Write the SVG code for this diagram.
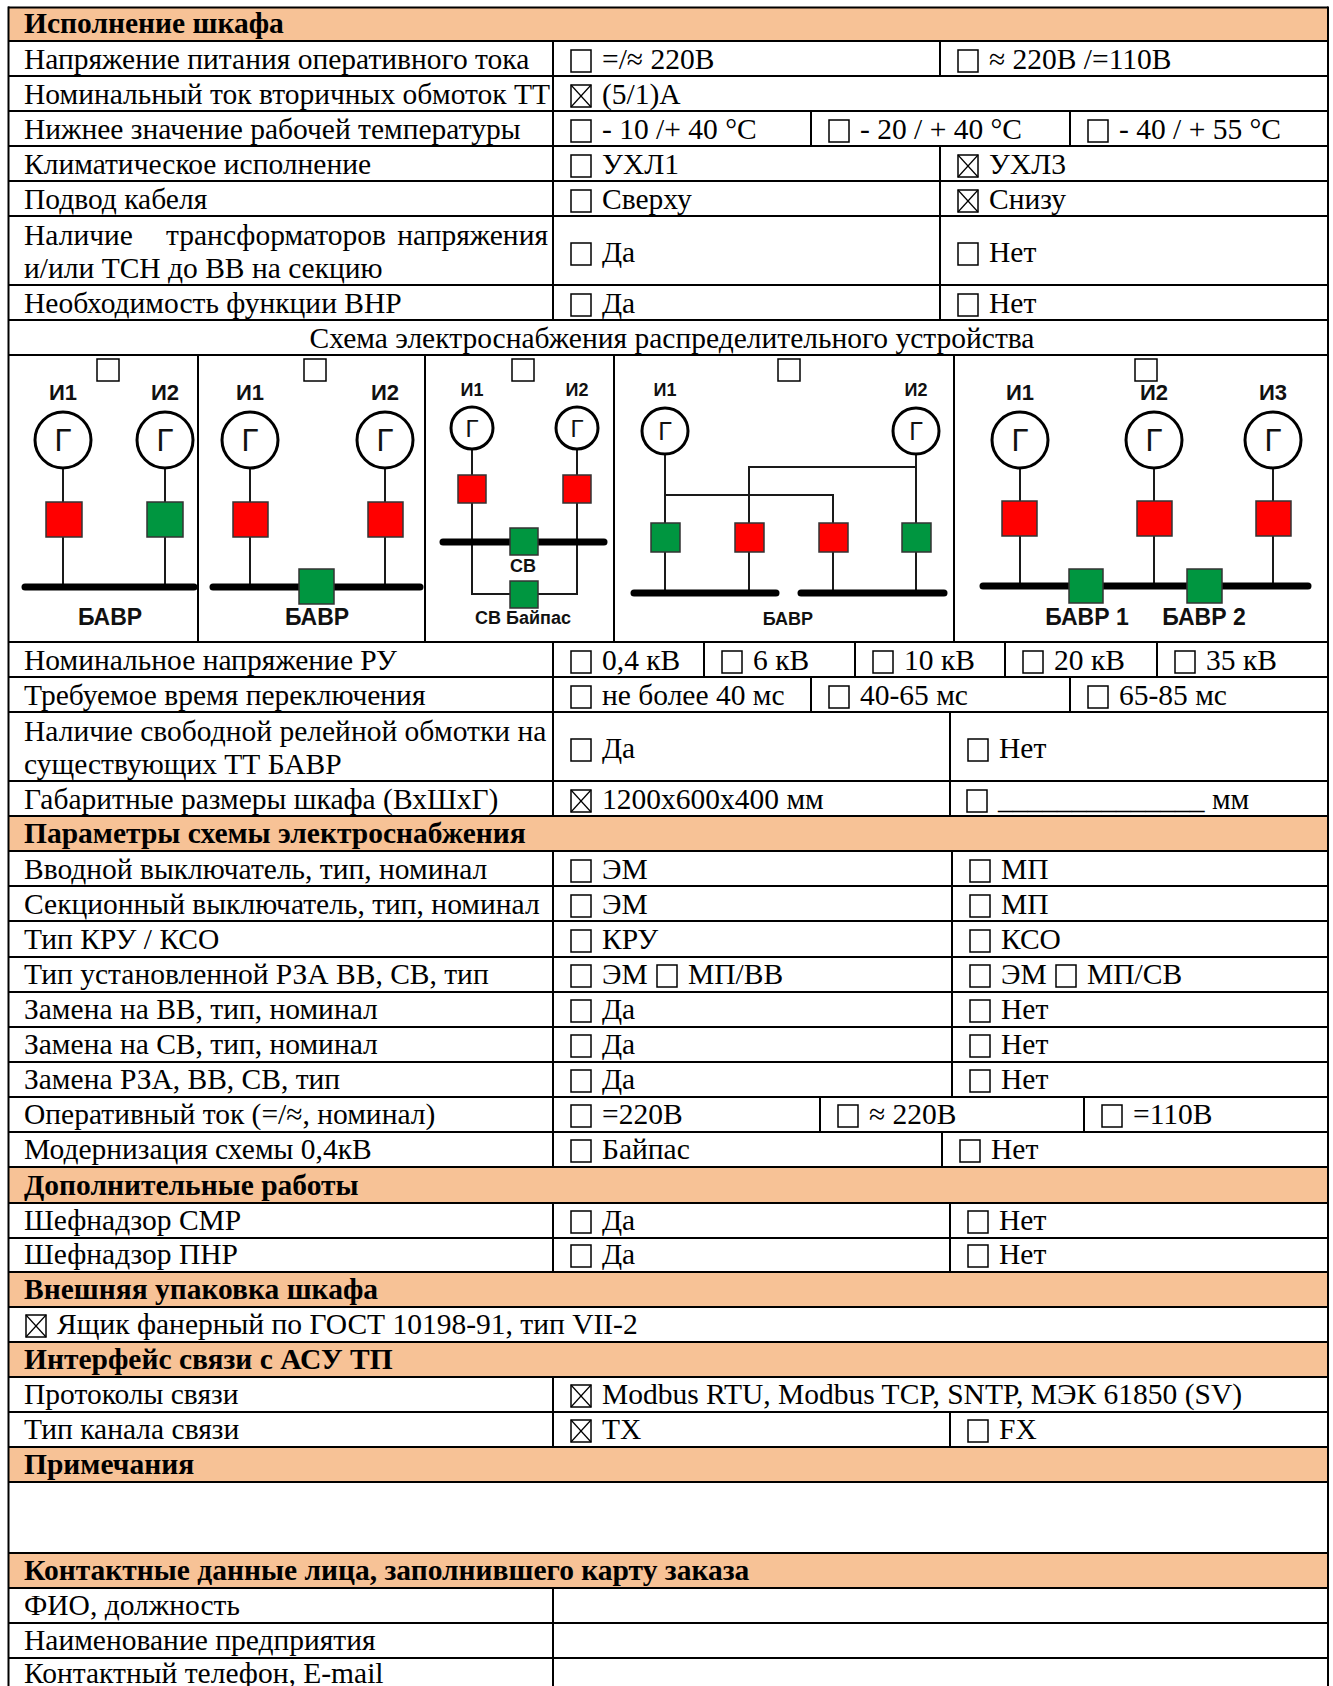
<svg xmlns="http://www.w3.org/2000/svg" xmlns:xlink="http://www.w3.org/1999/xlink" width="1333" height="1686" viewBox="0 0 1333 1686">
<style>
.t{font-family:"Liberation Serif","Times New Roman",serif;font-size:29.5px;fill:#000}
.b{font-weight:bold}
.hdr{fill:#F7C296}
.g line{stroke:#000;stroke-width:2}
.cb{fill:#fff;stroke:#000;stroke-width:1.5}
.cbl{stroke:#000;stroke-width:1.2}
.d{font-family:"Liberation Sans",Arial,sans-serif;font-weight:bold;fill:#111;text-anchor:middle}
.gl{font-family:"Liberation Sans",Arial,sans-serif;fill:#111;text-anchor:middle}
.w{stroke:#1a1a1a;stroke-width:2;fill:none}
.bus{stroke:#000;stroke-width:7;stroke-linecap:round}
.gen{fill:#fff;stroke:#000;stroke-width:3}
.red{fill:#FF0000;stroke:#333;stroke-width:1.5}
.grn{fill:#009640;stroke:#333;stroke-width:1.5}
.dcb{fill:#fff;stroke:#000;stroke-width:1.5}
</style>
<defs>
<g id="cb"><rect class="cb" x="0" y="0" width="20" height="22"/></g>
<g id="cbx"><rect class="cb" x="0" y="0" width="20" height="22"/><line class="cbl" x1="0" y1="0" x2="20" y2="22"/><line class="cbl" x1="20" y1="0" x2="0" y2="22"/></g>
</defs>
<rect x="0" y="0" width="1333" height="1686" fill="#fff"/>
<g id="headers">
<rect class="hdr" x="8" y="7.5" width="1320" height="33.5"/>
<rect class="hdr" x="8" y="816" width="1320" height="35"/>
<rect class="hdr" x="8" y="1167" width="1320" height="36"/>
<rect class="hdr" x="8" y="1272" width="1320" height="35"/>
<rect class="hdr" x="8" y="1342" width="1320" height="35"/>
<rect class="hdr" x="8" y="1447" width="1320" height="35"/>
<rect class="hdr" x="8" y="1553" width="1320" height="35"/>
</g>
<g id="grid" class="g">
<line x1="8" y1="7.5" x2="1328" y2="7.5"/>
<line x1="8" y1="41" x2="1328" y2="41"/>
<line x1="8" y1="76" x2="1328" y2="76"/>
<line x1="8" y1="111" x2="1328" y2="111"/>
<line x1="8" y1="146" x2="1328" y2="146"/>
<line x1="8" y1="181" x2="1328" y2="181"/>
<line x1="8" y1="216" x2="1328" y2="216"/>
<line x1="8" y1="285" x2="1328" y2="285"/>
<line x1="8" y1="320" x2="1328" y2="320"/>
<line x1="8" y1="355" x2="1328" y2="355"/>
<line x1="8" y1="642" x2="1328" y2="642"/>
<line x1="8" y1="677" x2="1328" y2="677"/>
<line x1="8" y1="712" x2="1328" y2="712"/>
<line x1="8" y1="781" x2="1328" y2="781"/>
<line x1="8" y1="816" x2="1328" y2="816"/>
<line x1="8" y1="851" x2="1328" y2="851"/>
<line x1="8" y1="886" x2="1328" y2="886"/>
<line x1="8" y1="921" x2="1328" y2="921"/>
<line x1="8" y1="957" x2="1328" y2="957"/>
<line x1="8" y1="992" x2="1328" y2="992"/>
<line x1="8" y1="1027" x2="1328" y2="1027"/>
<line x1="8" y1="1062" x2="1328" y2="1062"/>
<line x1="8" y1="1097" x2="1328" y2="1097"/>
<line x1="8" y1="1132" x2="1328" y2="1132"/>
<line x1="8" y1="1167" x2="1328" y2="1167"/>
<line x1="8" y1="1203" x2="1328" y2="1203"/>
<line x1="8" y1="1238" x2="1328" y2="1238"/>
<line x1="8" y1="1272" x2="1328" y2="1272"/>
<line x1="8" y1="1307" x2="1328" y2="1307"/>
<line x1="8" y1="1342" x2="1328" y2="1342"/>
<line x1="8" y1="1377" x2="1328" y2="1377"/>
<line x1="8" y1="1412" x2="1328" y2="1412"/>
<line x1="8" y1="1447" x2="1328" y2="1447"/>
<line x1="8" y1="1482" x2="1328" y2="1482"/>
<line x1="8" y1="1553" x2="1328" y2="1553"/>
<line x1="8" y1="1588" x2="1328" y2="1588"/>
<line x1="8" y1="1623" x2="1328" y2="1623"/>
<line x1="8" y1="1658" x2="1328" y2="1658"/>
<line x1="8.5" y1="6.5" x2="8.5" y2="1686"/>
<line x1="1328" y1="6.5" x2="1328" y2="1686"/>
<line x1="553" y1="41" x2="553" y2="320"/>
<line x1="553" y1="642" x2="553" y2="816"/>
<line x1="553" y1="851" x2="553" y2="1167"/>
<line x1="553" y1="1203" x2="553" y2="1272"/>
<line x1="553" y1="1377" x2="553" y2="1447"/>
<line x1="553" y1="1588" x2="553" y2="1686"/>
<line x1="940" y1="41" x2="940" y2="76"/>
<line x1="811" y1="111" x2="811" y2="146"/>
<line x1="1070" y1="111" x2="1070" y2="146"/>
<line x1="940" y1="146" x2="940" y2="320"/>
<line x1="198" y1="355" x2="198" y2="642"/>
<line x1="425" y1="355" x2="425" y2="642"/>
<line x1="614" y1="355" x2="614" y2="642"/>
<line x1="954" y1="355" x2="954" y2="642"/>
<line x1="704" y1="642" x2="704" y2="677"/>
<line x1="855" y1="642" x2="855" y2="677"/>
<line x1="1005" y1="642" x2="1005" y2="677"/>
<line x1="1157" y1="642" x2="1157" y2="677"/>
<line x1="811" y1="677" x2="811" y2="712"/>
<line x1="1070" y1="677" x2="1070" y2="712"/>
<line x1="950" y1="712" x2="950" y2="816"/>
<line x1="952" y1="851" x2="952" y2="1097"/>
<line x1="820" y1="1097" x2="820" y2="1132"/>
<line x1="1084" y1="1097" x2="1084" y2="1132"/>
<line x1="942" y1="1132" x2="942" y2="1167"/>
<line x1="950" y1="1203" x2="950" y2="1272"/>
<line x1="950" y1="1412" x2="950" y2="1447"/>
</g>
<g id="labels" class="t">
<text class="b" x="24" y="33">Исполнение шкафа</text>
<text x="24" y="69">Напряжение питания оперативного тока</text>
<text x="24" y="104">Номинальный ток вторичных обмоток ТТ</text>
<text x="24" y="139">Нижнее значение рабочей температуры</text>
<text x="24" y="174">Климатическое исполнение</text>
<text x="24" y="209">Подвод кабеля</text>
<text x="24" y="245">Наличие</text>
<text x="166" y="245">трансформаторов</text>
<text x="548" y="245" text-anchor="end">напряжения</text>
<text x="24" y="278">и/или ТСН до ВВ на секцию</text>
<text x="24" y="313">Необходимость функции ВНР</text>
<text x="672" y="348" text-anchor="middle">Схема электроснабжения распределительного устройства</text>
<text x="24" y="670">Номинальное напряжение РУ</text>
<text x="24" y="705">Требуемое время переключения</text>
<text x="24" y="741">Наличие свободной релейной обмотки на</text>
<text x="24" y="774">существующих ТТ БАВР</text>
<text x="24" y="809">Габаритные размеры шкафа (ВхШхГ)</text>
<text class="b" x="24" y="843">Параметры схемы электроснабжения</text>
<text x="24" y="879">Вводной выключатель, тип, номинал</text>
<text x="24" y="914">Секционный выключатель, тип, номинал</text>
<text x="24" y="949">Тип КРУ / КСО</text>
<text x="24" y="984">Тип установленной РЗА ВВ, СВ, тип</text>
<text x="24" y="1019">Замена на ВВ, тип, номинал</text>
<text x="24" y="1054">Замена на СВ, тип, номинал</text>
<text x="24" y="1089">Замена РЗА, ВВ, СВ, тип</text>
<text x="24" y="1124">Оперативный ток (=/≈, номинал)</text>
<text x="24" y="1159">Модернизация схемы 0,4кВ</text>
<text class="b" x="24" y="1195">Дополнительные работы</text>
<text x="24" y="1230">Шефнадзор СМР</text>
<text x="24" y="1264">Шефнадзор ПНР</text>
<text class="b" x="24" y="1299">Внешняя упаковка шкафа</text>
<text x="57" y="1334">Ящик фанерный по ГОСТ 10198-91, тип VII-2</text>
<text class="b" x="24" y="1369">Интерфейс связи с АСУ ТП</text>
<text x="24" y="1404">Протоколы связи</text>
<text x="24" y="1439">Тип канала связи</text>
<text class="b" x="24" y="1474">Примечания</text>
<text class="b" x="24" y="1580">Контактные данные лица, заполнившего карту заказа</text>
<text x="24" y="1615">ФИО, должность</text>
<text x="24" y="1650">Наименование предприятия</text>
<text x="24" y="1683">Контактный телефон, E-mail</text>
</g>
<g id="options" class="t">
<use xlink:href="#cb" x="571" y="50"/><text x="602" y="69">=/≈ 220В</text>
<use xlink:href="#cb" x="958" y="50"/><text x="989" y="69">≈ 220В /=110В</text>
<use xlink:href="#cbx" x="571" y="85"/><text x="602" y="104">(5/1)А</text>
<use xlink:href="#cb" x="571" y="120"/><text x="602" y="139">- 10 /+ 40 °C</text>
<use xlink:href="#cb" x="829" y="120"/><text x="860" y="139">- 20 / + 40 °C</text>
<use xlink:href="#cb" x="1088" y="120"/><text x="1119" y="139">- 40 / + 55 °C</text>
<use xlink:href="#cb" x="571" y="155"/><text x="602" y="174">УХЛ1</text>
<use xlink:href="#cbx" x="958" y="155"/><text x="989" y="174">УХЛ3</text>
<use xlink:href="#cb" x="571" y="190"/><text x="602" y="209">Сверху</text>
<use xlink:href="#cbx" x="958" y="190"/><text x="989" y="209">Снизу</text>
<use xlink:href="#cb" x="571" y="243"/><text x="602" y="262">Да</text>
<use xlink:href="#cb" x="958" y="243"/><text x="989" y="262">Нет</text>
<use xlink:href="#cb" x="571" y="294"/><text x="602" y="313">Да</text>
<use xlink:href="#cb" x="958" y="294"/><text x="989" y="313">Нет</text>
<use xlink:href="#cb" x="571" y="651"/><text x="602" y="670">0,4 кВ</text>
<use xlink:href="#cb" x="722" y="651"/><text x="753" y="670">6 кВ</text>
<use xlink:href="#cb" x="873" y="651"/><text x="904" y="670">10 кВ</text>
<use xlink:href="#cb" x="1023" y="651"/><text x="1054" y="670">20 кВ</text>
<use xlink:href="#cb" x="1175" y="651"/><text x="1206" y="670">35 кВ</text>
<use xlink:href="#cb" x="571" y="686"/><text x="602" y="705">не более 40 мс</text>
<use xlink:href="#cb" x="829" y="686"/><text x="860" y="705">40-65 мс</text>
<use xlink:href="#cb" x="1088" y="686"/><text x="1119" y="705">65-85 мс</text>
<use xlink:href="#cb" x="571" y="739"/><text x="602" y="758">Да</text>
<use xlink:href="#cb" x="968" y="739"/><text x="999" y="758">Нет</text>
<use xlink:href="#cbx" x="571" y="790"/><text x="602" y="809">1200х600х400 мм</text>
<use xlink:href="#cb" x="967" y="790"/><text x="998" y="809">______________ мм</text>
<use xlink:href="#cb" x="571" y="860"/><text x="602" y="879">ЭМ</text>
<use xlink:href="#cb" x="970" y="860"/><text x="1001" y="879">МП</text>
<use xlink:href="#cb" x="571" y="895"/><text x="602" y="914">ЭМ</text>
<use xlink:href="#cb" x="970" y="895"/><text x="1001" y="914">МП</text>
<use xlink:href="#cb" x="571" y="930"/><text x="602" y="949">КРУ</text>
<use xlink:href="#cb" x="970" y="930"/><text x="1001" y="949">КСО</text>
<use xlink:href="#cb" x="571" y="965"/><text x="602" y="984">ЭМ</text>
<use xlink:href="#cb" x="657" y="965"/><text x="688" y="984">МП/ВВ</text>
<use xlink:href="#cb" x="970" y="965"/><text x="1001" y="984">ЭМ</text>
<use xlink:href="#cb" x="1056" y="965"/><text x="1087" y="984">МП/СВ</text>
<use xlink:href="#cb" x="571" y="1000"/><text x="602" y="1019">Да</text>
<use xlink:href="#cb" x="970" y="1000"/><text x="1001" y="1019">Нет</text>
<use xlink:href="#cb" x="571" y="1035"/><text x="602" y="1054">Да</text>
<use xlink:href="#cb" x="970" y="1035"/><text x="1001" y="1054">Нет</text>
<use xlink:href="#cb" x="571" y="1070"/><text x="602" y="1089">Да</text>
<use xlink:href="#cb" x="970" y="1070"/><text x="1001" y="1089">Нет</text>
<use xlink:href="#cb" x="571" y="1105"/><text x="602" y="1124">=220В</text>
<use xlink:href="#cb" x="838" y="1105"/><text x="869" y="1124">≈ 220В</text>
<use xlink:href="#cb" x="1102" y="1105"/><text x="1133" y="1124">=110В</text>
<use xlink:href="#cb" x="571" y="1140"/><text x="602" y="1159">Байпас</text>
<use xlink:href="#cb" x="960" y="1140"/><text x="991" y="1159">Нет</text>
<use xlink:href="#cb" x="571" y="1211"/><text x="602" y="1230">Да</text>
<use xlink:href="#cb" x="968" y="1211"/><text x="999" y="1230">Нет</text>
<use xlink:href="#cb" x="571" y="1245"/><text x="602" y="1264">Да</text>
<use xlink:href="#cb" x="968" y="1245"/><text x="999" y="1264">Нет</text>
<use xlink:href="#cbx" x="26" y="1315"/>
<use xlink:href="#cbx" x="571" y="1385"/><text x="602" y="1404">Modbus RTU, Modbus TCP, SNTP, МЭК 61850 (SV)</text>
<use xlink:href="#cbx" x="571" y="1420"/><text x="602" y="1439">TX</text>
<use xlink:href="#cb" x="968" y="1420"/><text x="999" y="1439">FX</text>
</g>
<g id="connectors">
<line class="w" x1="63" y1="468" x2="63" y2="587"/>
<line class="w" x1="165" y1="468" x2="165" y2="587"/>
<line class="w" x1="250" y1="468" x2="250" y2="587"/>
<line class="w" x1="385" y1="468" x2="385" y2="587"/>
<path class="w" d="M472 449 V594 H577 V449"/>
<path class="w" d="M665 454 V593 M665 495 H833 V593 M916 454 V593 M916 467 H749 V593"/>
<line class="w" x1="1020" y1="468" x2="1020" y2="586"/>
<line class="w" x1="1154" y1="468" x2="1154" y2="586"/>
<line class="w" x1="1273" y1="468" x2="1273" y2="586"/>
<line class="bus" x1="25" y1="587" x2="194" y2="587"/>
<line class="bus" x1="213" y1="587" x2="420" y2="587"/>
<line class="bus" x1="443" y1="542" x2="604" y2="542"/>
<line class="bus" x1="634" y1="593" x2="776" y2="593"/>
<line class="bus" x1="801" y1="593" x2="944" y2="593"/>
<line class="bus" x1="983" y1="586" x2="1308" y2="586"/>
</g>
<g id="scheme1">
<rect class="dcb" x="97" y="359" width="22" height="22"/>
<text class="d" x="63" y="400" font-size="22">И1</text>
<text class="d" x="165" y="400" font-size="22">И2</text>
<circle class="gen" cx="63" cy="440" r="28"/><text class="gl" x="63" y="451" font-size="31">Г</text>
<circle class="gen" cx="165" cy="440" r="28"/><text class="gl" x="165" y="451" font-size="31">Г</text>
<rect class="red" x="46" y="502" width="36" height="35"/>
<rect class="grn" x="147" y="502" width="36" height="35"/>
<text class="d" x="110" y="625" font-size="23">БАВР</text>
</g>
<g id="scheme2">
<rect class="dcb" x="304" y="359" width="22" height="22"/>
<text class="d" x="250" y="400" font-size="22">И1</text>
<text class="d" x="385" y="400" font-size="22">И2</text>
<circle class="gen" cx="250" cy="440" r="28"/><text class="gl" x="250" y="451" font-size="31">Г</text>
<circle class="gen" cx="385" cy="440" r="28"/><text class="gl" x="385" y="451" font-size="31">Г</text>
<rect class="red" x="233" y="502" width="35" height="35"/>
<rect class="red" x="368" y="502" width="35" height="35"/>
<rect class="grn" x="299" y="569" width="35" height="35"/>
<text class="d" x="317" y="625" font-size="23">БАВР</text>
</g>
<g id="scheme3">
<rect class="dcb" x="512" y="359" width="22" height="22"/>
<text class="d" x="472" y="396" font-size="18">И1</text>
<text class="d" x="577" y="396" font-size="18">И2</text>
<circle class="gen" cx="472" cy="428" r="21"/><text class="gl" x="472" y="437" font-size="24">Г</text>
<circle class="gen" cx="577" cy="428" r="21"/><text class="gl" x="577" y="437" font-size="24">Г</text>
<rect class="red" x="458" y="475" width="28" height="28"/>
<rect class="red" x="563" y="475" width="28" height="28"/>
<rect class="grn" x="510" y="528" width="28" height="27"/>
<text class="d" x="523" y="572" font-size="18">СВ</text>
<rect class="grn" x="510" y="581" width="28" height="27"/>
<text class="d" x="523" y="624" font-size="18">СВ Байпас</text>
</g>
<g id="scheme4">
<rect class="dcb" x="778" y="359" width="22" height="22"/>
<text class="d" x="665" y="396" font-size="18">И1</text>
<text class="d" x="916" y="396" font-size="18">И2</text>
<circle class="gen" cx="665" cy="431" r="23"/><text class="gl" x="665" y="440" font-size="25">Г</text>
<circle class="gen" cx="916" cy="431" r="23"/><text class="gl" x="916" y="440" font-size="25">Г</text>
<rect class="grn" x="651" y="523" width="29" height="29"/>
<rect class="red" x="735" y="523" width="29" height="29"/>
<rect class="red" x="819" y="523" width="29" height="29"/>
<rect class="grn" x="902" y="523" width="29" height="29"/>
<text class="d" x="788" y="625" font-size="18">БАВР</text>
</g>
<g id="scheme5">
<rect class="dcb" x="1135" y="359" width="22" height="22"/>
<text class="d" x="1020" y="400" font-size="22">И1</text>
<text class="d" x="1154" y="400" font-size="22">И2</text>
<text class="d" x="1273" y="400" font-size="22">И3</text>
<circle class="gen" cx="1020" cy="440" r="28"/><text class="gl" x="1020" y="451" font-size="31">Г</text>
<circle class="gen" cx="1154" cy="440" r="28"/><text class="gl" x="1154" y="451" font-size="31">Г</text>
<circle class="gen" cx="1273" cy="440" r="28"/><text class="gl" x="1273" y="451" font-size="31">Г</text>
<rect class="red" x="1002" y="501" width="35" height="35"/>
<rect class="red" x="1137" y="501" width="35" height="35"/>
<rect class="red" x="1256" y="501" width="35" height="35"/>
<rect class="grn" x="1069" y="569" width="34" height="34"/>
<rect class="grn" x="1187" y="569" width="35" height="34"/>
<text class="d" x="1087" y="625" font-size="23">БАВР 1</text>
<text class="d" x="1204" y="625" font-size="23">БАВР 2</text>
</g>
</svg>
